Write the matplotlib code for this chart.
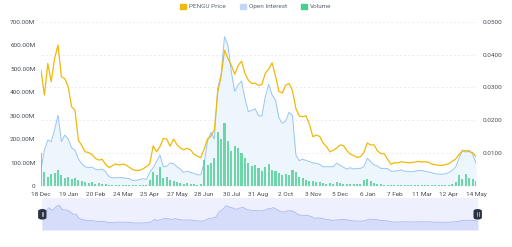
import numpy as np
import pandas as pd
import matplotlib
matplotlib.use("Agg")
import matplotlib.pyplot as plt
from matplotlib.patches import Patch, FancyBboxPatch

# data, one value every 4 days from 18 Dec
start = "2024-12-18"
price = [0.0353, 0.0277, 0.0373, 0.0317, 0.0388, 0.0429, 0.0332, 0.0327, 0.0302, 0.0241,
         0.0231, 0.0140, 0.0123, 0.0104, 0.0102, 0.0096, 0.0084, 0.0079, 0.0081, 0.0066,
         0.0056, 0.0062, 0.0067, 0.0064, 0.0067, 0.0064, 0.0057, 0.0050, 0.0047, 0.0048,
         0.0052, 0.0059, 0.0067, 0.0122, 0.0104, 0.0120, 0.0145, 0.0143, 0.0121, 0.0143,
         0.0126, 0.0116, 0.0110, 0.0115, 0.0110, 0.0097, 0.0091, 0.0086, 0.0112, 0.0143,
         0.0152, 0.0170, 0.0285, 0.0335, 0.0413, 0.0388, 0.0368, 0.0340, 0.0366, 0.0380,
         0.0343, 0.0322, 0.0312, 0.0313, 0.0306, 0.0309, 0.0343, 0.0356, 0.0375, 0.0335,
         0.0288, 0.0283, 0.0307, 0.0312, 0.0290, 0.0236, 0.0213, 0.0211, 0.0213, 0.0187,
         0.0150, 0.0155, 0.0151, 0.0131, 0.0120, 0.0104, 0.0109, 0.0115, 0.0125, 0.0123,
         0.0108, 0.0097, 0.0093, 0.0087, 0.0089, 0.0102, 0.0131, 0.0125, 0.0125, 0.0107,
         0.0099, 0.0098, 0.0081, 0.0066, 0.0071, 0.0070, 0.0074, 0.0072, 0.0071, 0.0071,
         0.0073, 0.0075, 0.0073, 0.0074, 0.0072, 0.0067, 0.0065, 0.0063, 0.0063, 0.0065,
         0.0068, 0.0075, 0.0082, 0.0096, 0.0106, 0.0108, 0.0104, 0.0102, 0.0089]

# open interest in millions
open_interest = [70, 153, 195, 189, 239, 302, 189, 217, 200, 163,
                 153, 115, 95, 82, 78, 81, 71, 69, 72, 61,
                 40, 35, 35, 37, 35, 33, 31, 24, 24, 27,
                 31, 28, 58, 78, 104, 132, 82, 84, 98, 95,
                 82, 72, 58, 63, 58, 54, 48, 48, 97, 190,
                 229, 200, 416, 476, 636, 600, 487, 403, 430, 447,
                 374, 317, 322, 329, 300, 298, 380, 433, 388, 366,
                 291, 267, 277, 314, 300, 132, 108, 114, 109, 104,
                 98, 97, 92, 82, 82, 82, 82, 97, 89, 80,
                 72, 78, 72, 75, 75, 82, 118, 104, 90, 85,
                 75, 75, 74, 63, 63, 65, 69, 63, 63, 60,
                 63, 66, 66, 63, 60, 57, 52, 51, 50, 52,
                 57, 67, 80, 118, 153, 144, 153, 136, 97]

# volume in millions
volume = [140, 60, 40, 50, 55, 70, 45, 35, 40, 30,
          35, 25, 20, 15, 12, 15, 10, 12, 10, 8,
          6, 5, 6, 5, 6, 5, 5, 4, 4, 5,
          5, 6, 25, 60, 45, 80, 35, 40, 25, 20,
          15, 12, 10, 12, 8, 8, 6, 10, 110, 90,
          100, 120, 230, 200, 270, 190, 150, 170, 160, 140,
          120, 100, 85, 90, 75, 65, 80, 95, 70, 65,
          55, 45, 50, 45, 70, 60, 40, 35, 25, 20,
          22, 15, 18, 12, 10, 12, 10, 15, 12, 10,
          8, 8, 7, 8, 10, 25, 30, 20, 12, 10,
          8, 6, 5, 5, 6, 4, 5, 6, 5, 4,
          5, 6, 4, 5, 6, 4, 5, 5, 4, 6,
          6, 8, 15, 45, 30, 50, 35, 30, 20]

tick_labels = ["18 Dec", "19 Jan", "20 Feb", "24 Mar", "25 Apr", "27 May", "28 Jun",
               "30 Jul", "31 Aug", "2 Oct", "3 Nov", "5 Dec", "6 Jan", "7 Feb",
               "11 Mar", "12 Apr", "14 May"]

dates = pd.date_range(start, periods=len(price), freq="4D")
tick_dates = pd.date_range(start, periods=len(tick_labels), freq="32D")
oi = np.array(open_interest) * 1e6
vol = np.array(volume) * 1e6

plt.rcParams["font.family"] = ["Roboto", "DejaVu Sans"]
txt = "#474d57"
fs = 4.6

fig = plt.figure(figsize=(5.12, 2.47), dpi=100)
ax = fig.add_axes([41 / 512, 1 - 186 / 247, 435 / 512, 164.3 / 247])
ax2 = ax.twinx()

# gridlines belong to the price axis, drawn behind everything
for g in [0.01, 0.02, 0.03, 0.04, 0.05]:
    ax.axhline(g / 0.05 * 700e6, color="#e4e6ea", lw=0.5, ls=(0, (3, 3)), zorder=0)

ax.fill_between(dates, oi, 0, color="#edf5fd", lw=0, zorder=1)
ax.plot(dates, oi, color="#98c5f5", lw=0.7, zorder=2)
ax.bar(dates, vol, width=2.4, color="#4fcd93", alpha=0.8, lw=0, zorder=3)
ax2.plot(dates, price, color="#f0b90b", lw=0.9)

ax.set_xlim(dates[0], tick_dates[-1])
ax.set_ylim(0, 700e6)
ax2.set_ylim(0, 0.05)

ax.set_yticks(np.arange(0, 701e6, 100e6))
ax.set_yticklabels(["0"] + [f"{v:.2f}M" for v in range(100, 701, 100)])
ax2.set_yticks([0.01, 0.02, 0.03, 0.04, 0.05])
ax2.set_yticklabels([f"{v:.4f}" for v in [0.01, 0.02, 0.03, 0.04, 0.05]])
ax.set_xticks(tick_dates)
ax.set_xticklabels(tick_labels)

for a in (ax, ax2):
    a.tick_params(length=0, labelsize=fs, labelcolor=txt)
    for s in a.spines.values():
        s.set_visible(False)
ax.tick_params(axis="y", pad=4)
ax.tick_params(axis="x", pad=4)
ax2.tick_params(axis="y", pad=5)

# legend on top
handles = [Patch(color="#f0b90b", label="PENGU Price"),
           Patch(color="#c2d6f8", label="Open Interest"),
           Patch(color="#48cf8d", label="Volume")]
fig.legend(handles=handles, loc="center", bbox_to_anchor=(0.5, 1 - 6.5 / 247), ncol=3,
           frameon=False, fontsize=fs, handlelength=0.9, handleheight=0.9,
           handletextpad=0.5, columnspacing=2.2, labelcolor="#5e6673")

# navigator strip below the chart
nav = fig.add_axes([42 / 512, 1 - 230 / 247, 436 / 512, 32 / 247])
nav.set_facecolor("#eef0fd")
nav.fill_between(dates, price, -0.01, color="#d6ddfb", lw=0)
nav.plot(dates, price, color="#a9b9f2", lw=0.6)
nav.set_xlim(dates[0], dates[-1])
nav.set_ylim(-0.010, 0.058)
nav.set_xticks([])
nav.set_yticks([])
for s in nav.spines.values():
    s.set_visible(False)

# navigator handles
for hx in [42.3, 477.7]:
    w, h = 7, 9
    box = FancyBboxPatch(((hx - w / 2) / 512, 1 - (214.3 + h / 2) / 247), w / 512, h / 247,
                         boxstyle="round,pad=0,rounding_size=0.006",
                         transform=fig.transFigure, color="#2b3245", zorder=10)
    fig.patches.append(box)
    for dx in (-0.8, 0.8):
        fig.lines.append(plt.Line2D([(hx + dx) / 512] * 2,
                                    [1 - 216.3 / 247, 1 - 212.3 / 247],
                                    transform=fig.transFigure, color="white",
                                    lw=0.4, zorder=11))

fig.savefig("out.png", dpi=100)
